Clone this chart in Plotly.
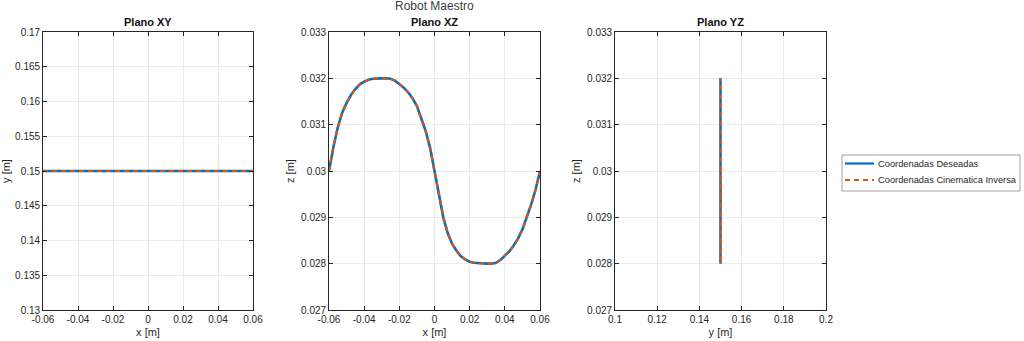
import plotly.graph_objects as go

# Trajectory samples
x_pts = [-0.06, -0.0575, -0.055, -0.0525, -0.05, -0.0475, -0.045, -0.0425, -0.04, -0.0375,
         -0.035, -0.0325, -0.03, -0.0275, -0.025, -0.0225, -0.02, -0.0175, -0.015, -0.0125,
         -0.01, -0.0075, -0.005, -0.0025, 0.0, 0.0025, 0.005, 0.0075, 0.01, 0.0125,
         0.015, 0.0175, 0.02, 0.0225, 0.025, 0.0275, 0.03, 0.0325, 0.035, 0.0375,
         0.04, 0.0425, 0.045, 0.0475, 0.05, 0.0525, 0.055, 0.0575, 0.06]
z_pts = [0.03000, 0.03052, 0.03094, 0.03126, 0.03147, 0.03164, 0.03177, 0.03187, 0.03193, 0.03197,
         0.03199, 0.03200, 0.03200, 0.03200, 0.03199, 0.03195, 0.03188, 0.03180, 0.03170, 0.03157,
         0.03140, 0.03115, 0.03086, 0.03050, 0.03000, 0.02946, 0.02900, 0.02866, 0.02843, 0.02828,
         0.02816, 0.02809, 0.02804, 0.02802, 0.02801, 0.02800, 0.02800, 0.02800, 0.02802, 0.02808,
         0.02816, 0.02826, 0.02839, 0.02854, 0.02874, 0.02900, 0.02928, 0.02960, 0.03000]
y_const = 0.15
y_pts = [y_const] * len(x_pts)

xy_xticks = [-0.06, -0.04, -0.02, 0, 0.02, 0.04, 0.06]
xy_xtext = ["-0.06", "-0.04", "-0.02", "0", "0.02", "0.04", "0.06"]
xy_yticks = [0.13, 0.135, 0.14, 0.145, 0.15, 0.155, 0.16, 0.165, 0.17]
xy_ytext = ["0.13", "0.135", "0.14", "0.145", "0.15", "0.155", "0.16", "0.165", "0.17"]
z_ticks = [0.027, 0.028, 0.029, 0.030, 0.031, 0.032, 0.033]
z_text = ["0.027", "0.028", "0.029", "0.03", "0.031", "0.032", "0.033"]
yz_xticks = [0.1, 0.12, 0.14, 0.16, 0.18, 0.2]
yz_xtext = ["0.1", "0.12", "0.14", "0.16", "0.18", "0.2"]

series_names = ["Coordenadas Deseadas", "Coordenadas Cinematica Inversa"]
BLUE = "#0072BD"
ORANGE = "#D95319"
FONT = "Liberation Sans, Arial, sans-serif"
AX = "#262626"
DASH = "5px,4px"

fig = go.Figure()

panels = [
    ("x", "y", x_pts, y_pts),
    ("x2", "y2", x_pts, z_pts),
    ("x3", "y3", y_pts, z_pts),
]
for i, (xa, ya, xs, ys) in enumerate(panels):
    fig.add_trace(go.Scatter(x=xs, y=ys, xaxis=xa, yaxis=ya, mode="lines",
                             line=dict(color=BLUE, width=2.6),
                             name=series_names[0], showlegend=False))
    fig.add_trace(go.Scatter(x=xs, y=ys, xaxis=xa, yaxis=ya, mode="lines",
                             line=dict(color=ORANGE, width=2.2, dash=DASH),
                             name=series_names[1], showlegend=False))

W, H = 1024, 341
ydom = [1 - 310 / H, 1 - 32 / H]
doms = [[43 / W, 253 / W], [329 / W, 540 / W], [615 / W, 826 / W]]

def ax_common():
    return dict(showline=True, linecolor=AX, linewidth=0.8, mirror="ticks",
                ticks="inside", ticklen=4, tickwidth=0.8, tickcolor=AX,
                showgrid=True, gridcolor="#ebebeb", gridwidth=1, zeroline=False,
                automargin=False,
                tickfont=dict(family=FONT, size=10, color=AX),
                title_font=dict(family=FONT, size=11, color=AX), title_standoff=4)

fig.update_layout(
    width=W, height=H,
    margin=dict(l=0, r=0, t=0, b=0, autoexpand=False),
    paper_bgcolor="white", plot_bgcolor="white",
    font=dict(family=FONT, color=AX),
    xaxis=dict(domain=doms[0], anchor="y", range=[-0.06, 0.06], tickmode="array",
               tickvals=xy_xticks, ticktext=xy_xtext, title_text="x [m]", **ax_common()),
    yaxis=dict(domain=ydom, anchor="x", range=[0.13, 0.17], tickmode="array",
               tickvals=xy_yticks, ticktext=xy_ytext, title_text="y [m]", **ax_common()),
    xaxis2=dict(domain=doms[1], anchor="y2", range=[-0.06, 0.06], tickmode="array",
                tickvals=xy_xticks, ticktext=xy_xtext, title_text="x [m]", **ax_common()),
    yaxis2=dict(domain=ydom, anchor="x2", range=[0.027, 0.033], tickmode="array",
                tickvals=z_ticks, ticktext=z_text, title_text="z [m]", **ax_common()),
    xaxis3=dict(domain=doms[2], anchor="y3", range=[0.1, 0.2], tickmode="array",
                tickvals=yz_xticks, ticktext=yz_xtext, title_text="y [m]", **ax_common()),
    yaxis3=dict(domain=ydom, anchor="x3", range=[0.027, 0.033], tickmode="array",
                tickvals=z_ticks, ticktext=z_text, title_text="z [m]", **ax_common()),
    showlegend=False,
)

titles = ["Plano XY", "Plano XZ", "Plano YZ"]
for d, t in zip(doms, titles):
    fig.add_annotation(text="<b>" + t + "</b>", x=(d[0] + d[1]) / 2, y=1 - 22 / H,
                       xref="paper", yref="paper", showarrow=False,
                       xanchor="center", yanchor="middle",
                       font=dict(family=FONT, size=11, color="#111111"))
fig.add_annotation(text="Robot Maestro", x=(doms[1][0] + doms[1][1]) / 2, y=1 - 6 / H,
                   xref="paper", yref="paper", showarrow=False,
                   xanchor="center", yanchor="middle",
                   font=dict(family=FONT, size=12, color="#404040"))

# Legend box (drawn in paper coordinates)
lx0, lx1, ly0, ly1 = 842, 1020, 155, 191
fig.add_shape(type="rect", xref="paper", yref="paper",
              x0=lx0 / W, x1=lx1 / W, y0=1 - ly1 / H, y1=1 - ly0 / H,
              line=dict(color="#a0a0a0", width=1), fillcolor="white")
rows = [(163.5, BLUE, "solid", 2.2), (180, ORANGE, DASH, 2.0)]
for (ry, col, dash, lw), name in zip(rows, series_names):
    fig.add_shape(type="line", xref="paper", yref="paper",
                  x0=845 / W, x1=874 / W, y0=1 - ry / H, y1=1 - ry / H,
                  line=dict(color=col, width=lw, dash=dash))
    fig.add_annotation(text=name, x=876 / W, y=1 - ry / H, xref="paper", yref="paper",
                       xanchor="left", yanchor="middle", showarrow=False,
                       font=dict(family=FONT, size=9.3, color=AX))

fig.write_html("out.html", config={"displayModeBar": False},
               post_script="document.body.style.margin='0';document.body.style.overflow='hidden';")
